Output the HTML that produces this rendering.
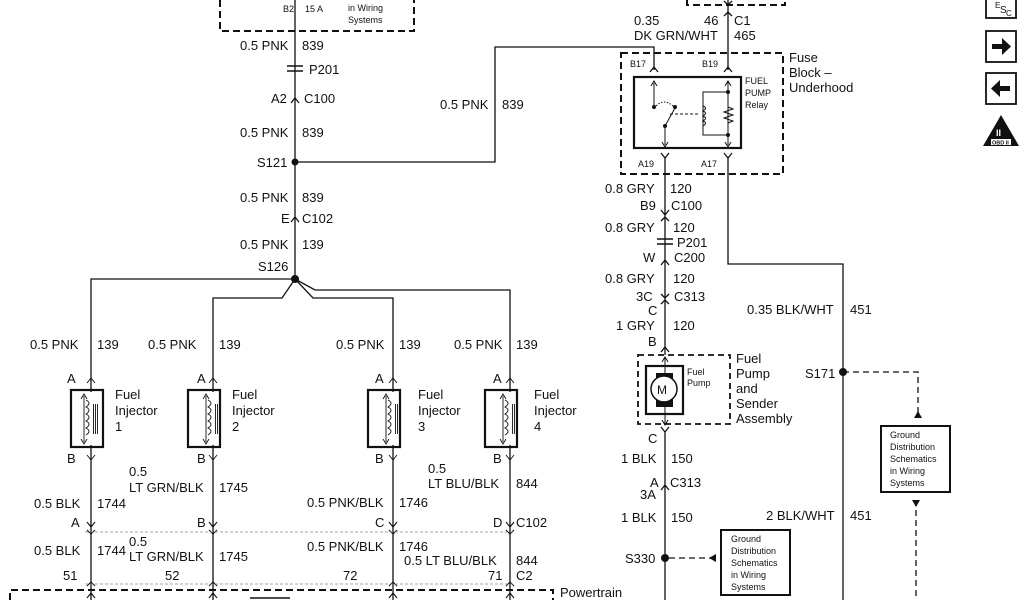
<!DOCTYPE html>
<html><head><meta charset="utf-8"><style>
html,body{margin:0;padding:0;background:#fff;width:1024px;height:600px;overflow:hidden}
svg{display:block}
text{font-family:"Liberation Sans",Arial,sans-serif;fill:#111}
.t{font-size:13px}
.s{font-size:9px}
</style></head><body>
<svg width="1024" height="600" viewBox="0 0 1024 600" xmlns="http://www.w3.org/2000/svg">
<g stroke="#111" fill="none" stroke-width="1.3">
<path d="M220 0 V31 H414 V0" stroke-dasharray="7,4" stroke-width="2"/>
<path d="M295 0 V279"/>
<path d="M295 162 H495 V47 H654 V70"/>
<path d="M287 66 H303 M287 71 H303" stroke-width="1.5"/>
<path d="M291 103 L295 98 L299 103 M291 222 L295 217 L299 222"/>
<path d="M295 279 H91 V600"/>
<path d="M295 279 L282 298 H213 V600"/>
<path d="M295 279 L313 298 H393 V600"/>
<path d="M295 279 L315 290 H510 V600"/>
</g>
<circle cx="295" cy="162" r="3.5" fill="#111"/>
<circle cx="295" cy="279" r="4" fill="#111"/>
<g class="t">
<text x="283" y="12" class="s">B2</text><text x="305" y="12" class="s">15 A</text>
<text x="348" y="11" class="s">in Wiring</text><text x="348" y="23" class="s">Systems</text>
<text x="240" y="50">0.5 PNK</text><text x="302" y="50">839</text>
<text x="309" y="74">P201</text>
<text x="271" y="103">A2</text><text x="304" y="103">C100</text>
<text x="240" y="137">0.5 PNK</text><text x="302" y="137">839</text>
<text x="257" y="167">S121</text>
<text x="440" y="109">0.5 PNK</text><text x="502" y="109">839</text>
<text x="240" y="202">0.5 PNK</text><text x="302" y="202">839</text>
<text x="281" y="223">E</text><text x="302" y="223">C102</text>
<text x="240" y="249">0.5 PNK</text><text x="302" y="249">139</text>
<text x="258" y="271">S126</text>
</g>
<g stroke="#111" fill="none" stroke-width="1.3">
<rect x="71" y="390" width="32" height="57" stroke-width="2.2"/>
<rect x="188" y="390" width="32" height="57" stroke-width="2.2"/>
<rect x="368" y="390" width="32" height="57" stroke-width="2.2"/>
<rect x="485" y="390" width="32" height="57" stroke-width="2.2"/>
</g>
<g fill="#fff" stroke="none">
<rect x="73" y="392" width="28" height="53"/><rect x="190" y="392" width="28" height="53"/>
<rect x="370" y="392" width="28" height="53"/><rect x="487" y="392" width="28" height="53"/>
</g>
<g stroke="#111" fill="none" stroke-width="0.9">
<path id="ij" d="M87 383 L91 378 L95 383 M87 455 L91 460 L95 455 M84 396 L84 442 M81 399 L84 394 L87 399 M81 439 L84 444 L87 439 M86 400 q6 3 0 7 q6 3 0 7 q6 3 0 7 q6 3 0 7 q6 3 0 7 M93.5 404 V434 M95.5 404 V434 M97.5 404 V434"/>
<use href="#ij" transform="translate(122,0)"/>
<use href="#ij" transform="translate(302,0)"/>
<use href="#ij" transform="translate(419,0)"/>
</g>
<g stroke="#111" fill="none" stroke-width="1.1">
<path id="cd" d="M87 522 L91 527 L95 522 M87 530 L91 534 L95 530"/>
<use href="#cd" transform="translate(122,0)"/>
<use href="#cd" transform="translate(302,0)"/>
<use href="#cd" transform="translate(419,0)"/>
<path id="cu" d="M87 586 L91 582 L95 586 M87 598 L91 593 L95 598"/>
<use href="#cu" transform="translate(122,0)"/>
<use href="#cu" transform="translate(302,0)"/>
<use href="#cu" transform="translate(419,0)"/>
<path d="M85 532 H515 M85 584 H515" stroke="#888" stroke-dasharray="3,2" stroke-width="0.8"/>
<path d="M10 600 V590 H553 V600" stroke-dasharray="7,4" stroke-width="2"/>
<path d="M250 598 H290" stroke-width="1.5"/>
</g>
<g class="t">
<text x="30" y="349">0.5 PNK</text><text x="97" y="349">139</text>
<text x="148" y="349">0.5 PNK</text><text x="219" y="349">139</text>
<text x="336" y="349">0.5 PNK</text><text x="399" y="349">139</text>
<text x="454" y="349">0.5 PNK</text><text x="516" y="349">139</text>
<text x="67" y="383">A</text><text x="197" y="383">A</text><text x="375" y="383">A</text><text x="493" y="383">A</text>
<text x="67" y="463">B</text><text x="197" y="463">B</text><text x="375" y="463">B</text><text x="493" y="463">B</text>
<text x="115" y="399">Fuel</text><text x="115" y="415">Injector</text><text x="115" y="431">1</text>
<text x="232" y="399">Fuel</text><text x="232" y="415">Injector</text><text x="232" y="431">2</text>
<text x="418" y="399">Fuel</text><text x="418" y="415">Injector</text><text x="418" y="431">3</text>
<text x="534" y="399">Fuel</text><text x="534" y="415">Injector</text><text x="534" y="431">4</text>
<text x="129" y="476">0.5</text><text x="129" y="492">LT GRN/BLK</text><text x="219" y="492">1745</text>
<text x="428" y="473">0.5</text><text x="428" y="488">LT BLU/BLK</text><text x="516" y="488">844</text>
<text x="34" y="508">0.5 BLK</text><text x="97" y="508">1744</text>
<text x="307" y="507">0.5 PNK/BLK</text><text x="399" y="507">1746</text>
<text x="71" y="527">A</text><text x="197" y="527">B</text><text x="375" y="527">C</text><text x="493" y="527">D</text><text x="516" y="527">C102</text>
<text x="34" y="555">0.5 BLK</text><text x="97" y="555">1744</text>
<text x="129" y="546">0.5</text><text x="129" y="561">LT GRN/BLK</text><text x="219" y="561">1745</text>
<text x="307" y="551">0.5 PNK/BLK</text><text x="399" y="551">1746</text>
<text x="404" y="565">0.5 LT BLU/BLK</text><text x="516" y="565">844</text>
<text x="63" y="580">51</text><text x="165" y="580">52</text><text x="343" y="580">72</text><text x="488" y="580">71</text><text x="516" y="580">C2</text>
<text x="560" y="597">Powertrain</text>
</g>
<g stroke="#111" fill="none" stroke-width="1.3">
<path d="M687 0 V5 H785 V0" stroke-dasharray="7,4" stroke-width="2"/>
<path d="M728 0 V70 M724 1 L728 5 L732 1 M724 16 L728 12 L732 16 M650 72 L654 67 L658 72 M724 72 L728 67 L732 72"/>
<path d="M621 53 H783 V174 H621 Z" stroke-dasharray="7,4" stroke-width="2"/>
<rect x="634" y="77" width="107" height="71" stroke-width="2.2"/>
<path d="M654 83 V107 M651 86 L654 81 L657 86" stroke-width="1"/>
<path d="M665 126 V145 M662 142 L665 147 L668 142" stroke-width="1"/>
<path d="M665 126 L675 108" stroke-width="1"/>
<path d="M656 106 q8 -8 17 0" stroke-dasharray="1.5,1.5" stroke-width="1"/>
<path d="M670 114 H700" stroke-dasharray="3,2" stroke-width="1"/>
<path d="M728 81 V145 M725 86 L728 81 L731 86 M725 142 L728 147 L731 142" stroke-width="1"/>
<path d="M728 92 H703 V135 H728 M703 106 q5 2 0 5 q5 2 0 5 q5 2 0 5 q5 2 0 5 M728 107 l5 2 l-9 3 l9 3 l-9 3 l9 3 l-5 2" stroke-width="1"/>
<path d="M661 153 L665 158 L669 153 M724 153 L728 158 L732 153"/>
<path d="M665 158 V355 M728 158 V264 H843 V600"/>
<path d="M661 210 L665 215 L669 210 M661 221 L665 217 L669 221"/>
<path d="M657 239 H673 M657 244 H673" stroke-width="1.5"/>
<path d="M661 265 L665 260 L669 265 M661 294 L665 298 L669 294 M661 304 L665 300 L669 304 M661 352 L665 347 L669 352"/>
<path d="M638 355 H730 V424 H638 Z" stroke-dasharray="6,4" stroke-width="1.8"/>
<rect x="646" y="366" width="37" height="48" stroke-width="2.2"/>
<path d="M665 358 V424 M662 362 L665 357 L668 362 M662 420 L665 425 L668 420" stroke-width="1"/>
<path d="M661 427 L665 432 L669 427 M665 432 V600 M661 490 L665 485 L669 490"/>
<path d="M843 372 H918 V418 M669 558 H712" stroke-dasharray="6,4" stroke-width="1.3"/>
<path d="M916 500 V600" stroke-dasharray="6,4" stroke-width="1.3"/>
<rect x="881" y="426" width="69" height="66" stroke-width="2"/>
<rect x="721" y="530" width="69" height="65" stroke-width="2"/>
</g>
<rect x="656" y="373" width="17" height="34" fill="#111"/>
<circle cx="664" cy="389" r="13" fill="#fff" stroke="#111" stroke-width="1.5"/>
<text x="657" y="394" font-size="12">M</text>
<circle cx="654" cy="107" r="2" fill="#111"/><circle cx="675" cy="107" r="2" fill="#111"/><circle cx="665" cy="126" r="2" fill="#111"/>
<circle cx="728" cy="92" r="2" fill="#111"/><circle cx="728" cy="135" r="2" fill="#111"/>
<circle cx="843" cy="372" r="4" fill="#111"/><circle cx="665" cy="558" r="4" fill="#111"/>
<path d="M914 418 L922 418 L918 411 Z M912 500 L920 500 L916 507 Z M716 554 L716 562 L709 558 Z" fill="#111"/>
<g class="t">
<text x="634" y="25">0.35</text><text x="704" y="25">46</text><text x="734" y="25">C1</text>
<text x="634" y="40">DK GRN/WHT</text><text x="734" y="40">465</text>
<text x="630" y="67" class="s">B17</text><text x="702" y="67" class="s">B19</text>
<text x="745" y="84" class="s">FUEL</text><text x="745" y="96" class="s">PUMP</text><text x="745" y="108" class="s">Relay</text>
<text x="638" y="167" class="s">A19</text><text x="701" y="167" class="s">A17</text>
<text x="789" y="62">Fuse</text><text x="789" y="77">Block –</text><text x="789" y="92">Underhood</text>
<text x="605" y="193">0.8 GRY</text><text x="670" y="193">120</text>
<text x="640" y="210">B9</text><text x="671" y="210">C100</text>
<text x="605" y="232">0.8 GRY</text><text x="673" y="232">120</text>
<text x="677" y="247">P201</text>
<text x="643" y="262">W</text><text x="674" y="262">C200</text>
<text x="605" y="283">0.8 GRY</text><text x="673" y="283">120</text>
<text x="636" y="301">3C</text><text x="674" y="301">C313</text>
<text x="648" y="315">C</text>
<text x="616" y="330">1 GRY</text><text x="673" y="330">120</text>
<text x="648" y="346">B</text>
<text x="687" y="375" class="s">Fuel</text><text x="687" y="386" class="s">Pump</text>
<text x="736" y="363">Fuel</text><text x="736" y="378">Pump</text><text x="736" y="393">and</text><text x="736" y="408">Sender</text><text x="736" y="423">Assembly</text>
<text x="747" y="314">0.35 BLK/WHT</text><text x="850" y="314">451</text>
<text x="805" y="378">S171</text>
<text x="648" y="443">C</text>
<text x="621" y="463">1 BLK</text><text x="671" y="463">150</text>
<text x="650" y="487">A</text><text x="670" y="487">C313</text><text x="640" y="499">3A</text>
<text x="621" y="522">1 BLK</text><text x="671" y="522">150</text>
<text x="766" y="520">2 BLK/WHT</text><text x="850" y="520">451</text>
<text x="625" y="563">S330</text>
<text x="890" y="438" class="s">Ground</text><text x="890" y="450" class="s">Distribution</text><text x="890" y="462" class="s">Schematics</text><text x="890" y="474" class="s">in Wiring</text><text x="890" y="486" class="s">Systems</text>
<text x="731" y="542" class="s">Ground</text><text x="731" y="554" class="s">Distribution</text><text x="731" y="566" class="s">Schematics</text><text x="731" y="578" class="s">in Wiring</text><text x="731" y="590" class="s">Systems</text>
</g>
<g stroke="#111" fill="none" stroke-width="1.8">
<rect x="986" y="-2" width="30" height="20"/>
<rect x="986" y="31" width="30" height="31"/>
<rect x="986" y="73" width="30" height="31"/>
</g>
<text x="995" y="8" font-size="8">E</text><text x="1000" y="13" font-size="10">S</text><text x="1006" y="16" font-size="8">C</text>
<path d="M992 44 H1002 V38 L1011 46.5 L1002 55 V49 H992 Z" fill="#111"/>
<path d="M1010 86 H1000 V80 L991 88.5 L1000 97 V91 H1010 Z" fill="#111"/>
<path d="M1001 115 L1019 146 H983 Z" fill="#111"/>
<rect x="991" y="139" width="20" height="6" fill="#fff"/>
<text x="992" y="144.5" font-size="5.5" font-weight="bold">OBD II</text>
<text x="996" y="136" font-size="9" font-weight="bold" style="fill:#fff">II</text>
</svg>
</body></html>
